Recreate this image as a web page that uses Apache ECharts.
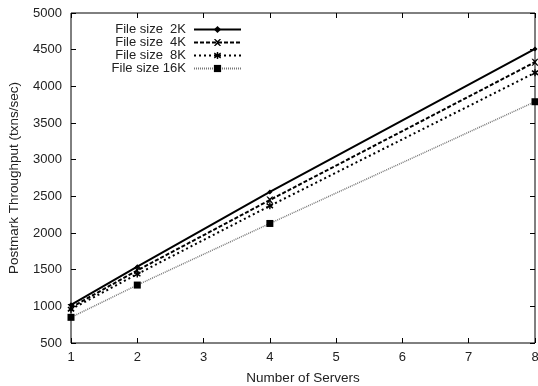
<!DOCTYPE html>
<html>
<head>
<meta charset="utf-8">
<script src="https://cdn.jsdelivr.net/npm/echarts@6/dist/echarts.min.js"></script>
<style>
  html, body { margin: 0; padding: 0; background: #fff; }
  #chart { width: 538px; height: 386px; }
</style>
</head>
<body>
<div id="chart"></div>
<script>
// data
var servers = [1, 2, 4, 8];
var size2k = [1020, 1540, 2560, 4510];
var size4k = [985, 1490, 2450, 4330];
var size8k = [960, 1440, 2370, 4185];
var size16k = [850, 1290, 2130, 3790];
var seriesNames = ['File size  2K', 'File size  4K', 'File size  8K', 'File size 16K'];

function pairs(vals) {
    return servers.map(function (s, i) { return [s, vals[i]]; });
}

var font = 'Liberation Sans, Arial, sans-serif';
var chart = echarts.init(document.getElementById('chart'));

var xMark = 'path://M0,0 L2,0 L5,3 L8,0 L10,0 L6,5 L10,10 L8,10 L5,7 L2,10 L0,10 L4,5 Z';
var starMark = 'path://M4,0 L6,0 L6,3 L9,1 L10,3 L7,5 L10,7 L9,9 L6,7 L6,10 L4,10 L4,7 L1,9 L0,7 L3,5 L0,3 L1,1 L4,3 Z';

function plain(v) { return String(v); }

var opt = {
    animation: false,
    textStyle: { fontFamily: font },
    grid: {
        left: 71, right: 3, top: 13, bottom: 43,
        outerBoundsMode: 'none', containLabel: false,
        show: true, borderColor: '#000', borderWidth: 1
    },
    legend: {
        orient: 'vertical',
        left: 101,
        top: 18,
        align: 'right',
        itemGap: 0,
        itemWidth: 47,
        itemHeight: 9,
        formatter: function (name) { return '{t|' + name + '}'; },
        textStyle: {
            fontSize: 13, color: '#222', fontFamily: font,
            rich: { t: { width: 80, align: 'right', padding: [0, 3, 0, 0], fontSize: 13, lineHeight: 13, color: '#222', fontFamily: font } }
        },
        data: seriesNames
    },
    xAxis: [{
        type: 'value', min: 1, max: 8, interval: 1,
        name: 'Number of Servers', nameLocation: 'middle', nameGap: 28,
        nameTextStyle: { fontSize: 13.5, color: '#222' },
        axisLine: { show: false },
        axisTick: { inside: true, length: 5, lineStyle: { color: '#000' } },
        axisLabel: { fontSize: 13, color: '#222', margin: 8, formatter: plain },
        splitLine: { show: false }
    }, {
        type: 'value', min: 1, max: 8, interval: 1, position: 'top',
        axisLine: { show: false },
        axisTick: { inside: true, length: 5, lineStyle: { color: '#000' } },
        axisLabel: { show: false },
        splitLine: { show: false }
    }],
    yAxis: [{
        type: 'value', min: 500, max: 5000, interval: 500,
        name: 'Postmark Throughput (txns/sec)', nameLocation: 'middle', nameGap: 50,
        nameTextStyle: { fontSize: 13.5, color: '#222' },
        axisLine: { show: false },
        axisTick: { inside: true, length: 5, lineStyle: { color: '#000' } },
        axisLabel: { fontSize: 13, color: '#222', margin: 9, formatter: plain },
        splitLine: { show: false }
    }, {
        type: 'value', min: 500, max: 5000, interval: 500, position: 'right',
        axisLine: { show: false },
        axisTick: { inside: true, length: 5, lineStyle: { color: '#000' } },
        axisLabel: { show: false },
        splitLine: { show: false }
    }],
    series: [{
        name: seriesNames[0], type: 'line', data: pairs(size2k),
        symbol: 'diamond', symbolSize: 5,
        lineStyle: { color: '#000', width: 2 },
        itemStyle: { color: '#000' }
    }, {
        name: seriesNames[1], type: 'line', data: pairs(size4k),
        symbol: xMark, symbolSize: 7,
        lineStyle: { color: '#000', width: 2, type: [4, 2] },
        itemStyle: { color: '#000' }
    }, {
        name: seriesNames[2], type: 'line', data: pairs(size8k),
        symbol: starMark, symbolSize: 7,
        lineStyle: { color: '#000', width: 2, type: [2, 3] },
        itemStyle: { color: '#000' }
    }, {
        name: seriesNames[3], type: 'line', data: pairs(size16k),
        symbol: 'rect', symbolSize: 7,
        lineStyle: { color: '#777', width: 1.5, type: [1, 1] },
        itemStyle: { color: '#000' }
    }]
};

chart.setOption(opt);
</script>
</body>
</html>
